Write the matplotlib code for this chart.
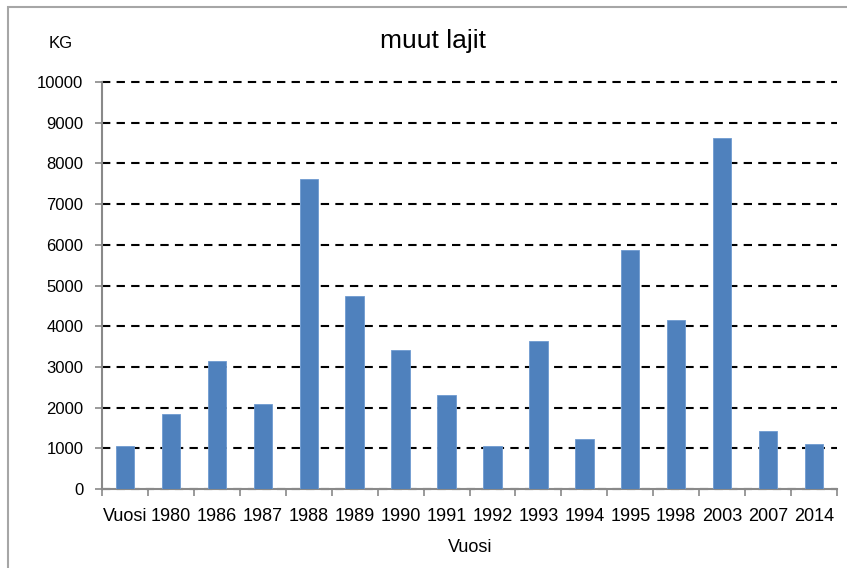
import matplotlib.pyplot as plt
from matplotlib.patches import Rectangle
import numpy as np

plt.rcParams['font.family'] = ['Liberation Sans', 'DejaVu Sans']

# data
vuodet = ['Vuosi', '1980', '1986', '1987', '1988', '1989', '1990', '1991',
          '1992', '1993', '1994', '1995', '1998', '2003', '2007', '2014']
kg = [1055, 1840, 3145, 2090, 7610, 4735, 3415, 2300,
      1055, 3635, 1230, 5880, 4145, 8630, 1420, 1105]
y_ticks = [0, 1000, 2000, 3000, 4000, 5000, 6000, 7000, 8000, 9000, 10000]

fig = plt.figure(figsize=(8.47, 5.68), dpi=100)
ax = fig.add_axes([102 / 847, 1 - 489 / 568, 735 / 847, 407 / 568])

x = np.arange(len(vuodet))
ax.bar(x, kg, width=0.4, color='#4f81bd', edgecolor='#6f9bd1', linewidth=0.6, zorder=3)

ax.set_xlim(-0.5, len(vuodet) - 0.5)
ax.set_ylim(0, 10000)
ax.set_yticks(y_ticks)
ax.set_yticklabels([str(v) for v in y_ticks], fontsize=12)

# nimet keskelle, tikit kategorioiden väliin
ax.set_xticks(x)
ax.set_xticklabels(vuodet, fontsize=13)
ax.set_xticks(np.arange(-0.5, len(vuodet)), minor=True)
ax.tick_params(axis='x', which='major', length=0, pad=14)
ax.tick_params(axis='x', which='minor', length=5, color='#898989', width=1.2, direction='out')
ax.tick_params(axis='y', length=5, color='#898989', width=1.2, direction='out', pad=8.5)

ax.grid(axis='y', color='black', linestyle=(0, (4, 3)), linewidth=1.5, zorder=1)
ax.set_axisbelow(True)
for gl in ax.get_ygridlines():
    gl.set_clip_on(False)

for s in ['top', 'right']:
    ax.spines[s].set_visible(False)
for s in ['left', 'bottom']:
    ax.spines[s].set_color('#898989')
    ax.spines[s].set_linewidth(1.5)

fig.text(470 / 847, 1 - 548 / 568, 'Vuosi', fontsize=13, ha='center', va='center')
fig.text(433 / 847, 1 - 41 / 568, 'muut lajit', fontsize=19, ha='center', va='center')
fig.text(61 / 847, 1 - 44 / 568, 'KG', fontsize=12, ha='center', va='center')

# kaavioalueen reunus
fig.patches.append(Rectangle((8 / 847, -0.1), 1.1, 1 - 7 / 568 + 0.1, transform=fig.transFigure,
                             fill=False, edgecolor='#a6a6a6', linewidth=1.5))

fig.savefig('out.png', dpi=100)
